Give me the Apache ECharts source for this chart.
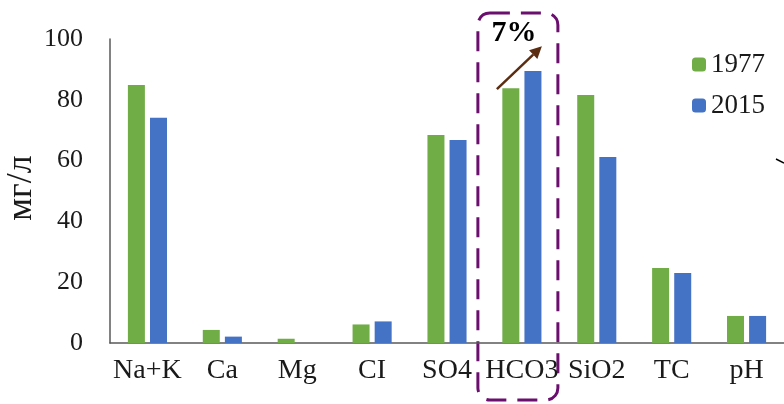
<!DOCTYPE html>
<html><head><meta charset="utf-8">
<script src="https://cdn.jsdelivr.net/npm/echarts@6/dist/echarts.min.js"></script>
<style>html,body{margin:0;padding:0;background:#fff}#c{width:784px;height:404px}</style>
</head><body><div id="c"></div>
<script>
var categories = ['Na+K','Ca','Mg','CI','SO4','HCO3','SiO2','TC','pH'];
var values1977 = [84.9, 4.3, 1.4, 6.1, 68.4, 83.8, 81.6, 24.7, 8.9];
var values2015 = [74.1, 2.1, 0, 7.1, 66.8, 89.5, 61.2, 23.0, 8.9];
var yTicks = [0, 20, 40, 60, 80, 100];
var seriesNames = ['1977', '2015'];
var yAxisTitle = 'мг/л';
var annotText = '7%';

var FONT = '"Liberation Serif","Times New Roman",serif';
var chart = echarts.init(document.getElementById('c'));
chart.setOption({
  animation: false,
  backgroundColor: '#fff',
  grid: {left: 110, right: 0, top: 39, bottom: 61, containLabel: false, outerBoundsMode: 'none'},
  legend: {
    orient: 'vertical', right: 14, top: 46,
    itemWidth: 14, itemHeight: 14, itemGap: 14,
    textStyle: {fontFamily: FONT, fontSize: 27, color: '#1a1a1a'},
    data: seriesNames
  },
  xAxis: {
    type: 'category', data: categories,
    axisLine: {lineStyle: {color: '#595959', width: 1.5}},
    axisTick: {show: false},
    axisLabel: {fontFamily: FONT, fontSize: 28, color: '#1a1a1a', margin: 14, interval: 0}
  },
  yAxis: {
    type: 'value', min: yTicks[0], max: yTicks[yTicks.length-1], interval: 20,
    axisLine: {show: true, lineStyle: {color: '#595959', width: 1.5}},
    axisTick: {show: false},
    splitLine: {show: false},
    axisLabel: {fontFamily: FONT, fontSize: 26, color: '#1a1a1a', margin: 27}
  },
  series: [
    {name: seriesNames[0], type: 'bar', data: values1977, barWidth: 17, barGap: '30%',
     itemStyle: {color: '#70ad47'}},
    {name: seriesNames[1], type: 'bar', data: values2015, barWidth: 17,
     itemStyle: {color: '#4472c4'}}
  ]
});

var c = chart.convertToPixel({gridIndex: 0}, ['HCO3', 0]);
var cx = c[0];
var mid = chart.convertToPixel({gridIndex: 0}, ['Na+K', 51]);
var a0 = chart.convertToPixel({gridIndex: 0}, ['HCO3', 83.5]);
var a1 = chart.convertToPixel({gridIndex: 0}, ['HCO3', 97.6]);
var sx = cx - 25, sy = a0[1], ex = cx + 20, ey = a1[1];
var ang = Math.atan2(ey - sy, ex - sx);
var hl = 12, hw = 6;
var bx = ex - hl * Math.cos(ang), by = ey - hl * Math.sin(ang);
var px = -Math.sin(ang) * hw, py = Math.cos(ang) * hw;
chart.setOption({
  graphic: [
    {type: 'text', x: 22, y: mid[1], rotation: Math.PI / 2,
     style: {text: yAxisTitle, font: '36px ' + FONT, fill: '#1a1a1a', textAlign: 'center', textVerticalAlign: 'middle'}},
    {type: 'rect', shape: {x: cx - 44, y: 13, width: 80, height: 387, r: 12},
     style: {fill: 'none', stroke: '#6b0f6f', lineWidth: 3, lineDash: [20, 11]}},
    {type: 'line', shape: {x1: sx, y1: sy, x2: bx, y2: by},
     style: {stroke: '#5b2c0f', lineWidth: 2.5}},
    {type: 'polygon', shape: {points: [[ex, ey], [bx + px, by + py], [bx - px, by - py]]},
     style: {fill: '#5b2c0f'}},
    {type: 'text', x: cx - 8, y: 33,
     style: {text: annotText, font: 'bold 30px ' + FONT, fill: '#000', textAlign: 'center', textVerticalAlign: 'middle'}},
    {type: 'line', shape: {x1: 776, y1: 159, x2: 784, y2: 163},
     style: {stroke: '#000', lineWidth: 1.5}}
  ]
});
</script></body></html>
